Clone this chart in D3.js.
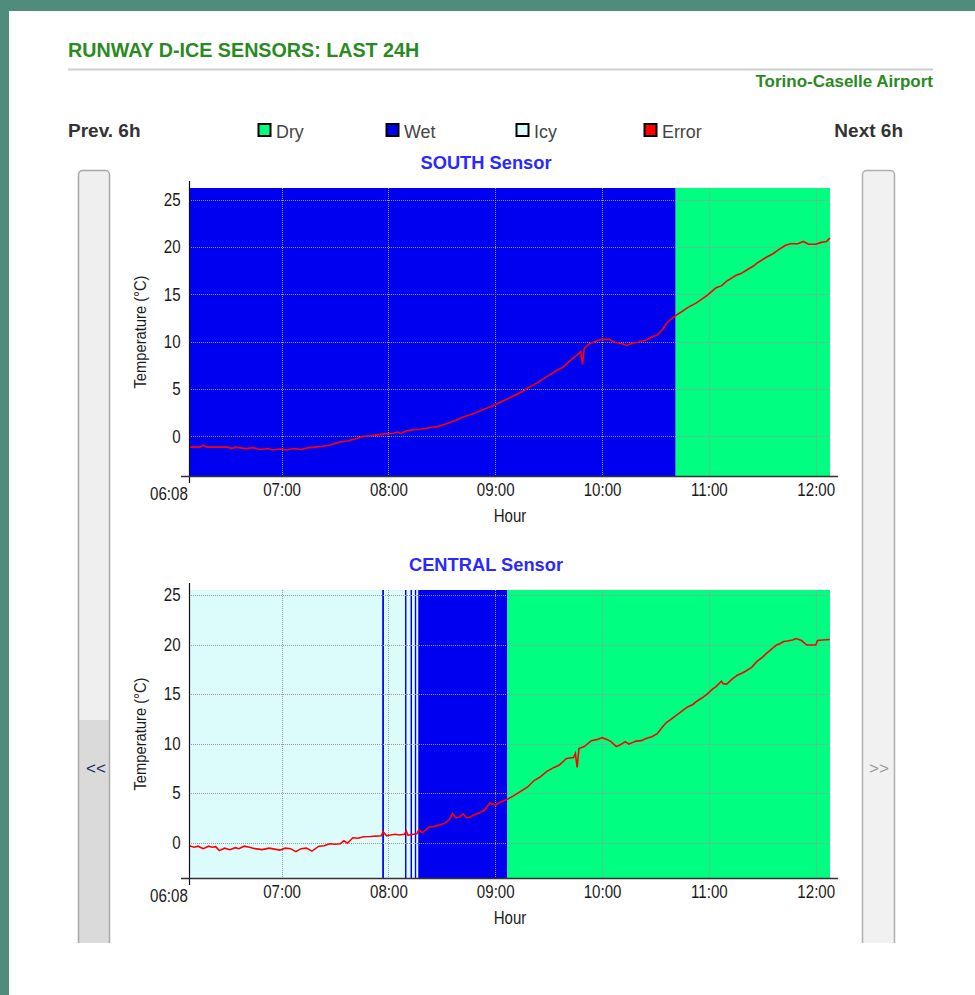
<!DOCTYPE html>
<html>
<head>
<meta charset="utf-8">
<script src="https://cdn.jsdelivr.net/npm/d3@7"></script>
<style>
  html, body { margin: 0; padding: 0; background: #fff; }
  svg { display: block; font-family: "Liberation Sans", Arial, sans-serif; }
</style>
</head>
<body>
<div id="page"></div>
<script>
// Legend / state colours
var stateNames = ["Dry", "Wet", "Icy", "Error"];
var stateColors = ["#00ff80", "#0000f0", "#dcfcfc", "#ff0000"];

// Axes
var timeStart = "06:08";
var timeEnd = "12:08";
var hourTicks = ["06:08", "07:00", "08:00", "09:00", "10:00", "11:00", "12:00"];
var tempTicks = [0, 5, 10, 15, 20, 25];

// SOUTH sensor
var southRange = [-4.2, 26.25];
var southStates = [
    ["06:08", "10:41:20", "Wet"],
    ["10:41:20", "12:08", "Dry"]
];
var southTemps = [
    ["06:08", -1.15], ["06:14", -1.15], ["06:16", -0.95], ["06:18", -1.15], ["06:30", -1.15],
    ["06:32", -1.3], ["06:34", -1.15], ["06:40", -1.3], ["06:44", -1.2], ["06:48", -1.4],
    ["06:52", -1.3], ["06:55", -1.45], ["06:59", -1.35], ["07:03", -1.45], ["07:07", -1.3],
    ["07:11", -1.4], ["07:15", -1.2], ["07:19", -1.15], ["07:23", -1.05], ["07:27", -0.95],
    ["07:30", -0.75], ["07:33", -0.6], ["07:37", -0.5], ["07:40", -0.35], ["07:43", -0.2],
    ["07:46", 0.0], ["07:50", 0.05], ["07:54", 0.15], ["07:58", 0.25], ["08:02", 0.3],
    ["08:05", 0.45], ["08:07", 0.3], ["08:10", 0.55], ["08:14", 0.7], ["08:18", 0.75],
    ["08:23", 0.9], ["08:28", 1.05], ["08:33", 1.35], ["08:38", 1.7], ["08:42", 2.05],
    ["08:47", 2.35], ["08:51", 2.65], ["08:55", 2.95], ["08:59", 3.25], ["09:04", 3.7],
    ["09:10", 4.25], ["09:15", 4.7], ["09:19", 5.2], ["09:24", 5.7], ["09:29", 6.3],
    ["09:34", 6.9], ["09:38", 7.3], ["09:42", 8.0], ["09:46", 8.6], ["09:48", 8.95],
    ["09:49", 7.6], ["09:50", 9.3], ["09:53", 9.8], ["09:57", 10.1], ["10:00", 10.25],
    ["10:04", 10.25], ["10:07", 9.95], ["10:11", 9.8], ["10:14", 9.6], ["10:17", 9.85],
    ["10:20", 9.95], ["10:25", 10.2], ["10:28", 10.5], ["10:31", 10.7], ["10:34", 11.3],
    ["10:36", 11.9], ["10:38", 12.25], ["10:42", 12.85], ["10:45", 13.2], ["10:48", 13.6],
    ["10:53", 14.1], ["10:59", 14.9], ["11:04", 15.7], ["11:07", 15.9], ["11:10", 16.4],
    ["11:15", 17.0], ["11:18", 17.2], ["11:21", 17.55], ["11:25", 18.0], ["11:27", 18.3],
    ["11:32", 18.9], ["11:36", 19.3], ["11:39", 19.7], ["11:43", 20.2], ["11:46", 20.35],
    ["11:50", 20.35], ["11:53", 20.6], ["11:56", 20.3], ["12:00", 20.3], ["12:03", 20.5],
    ["12:06", 20.6], ["12:08", 20.95]
];

// CENTRAL sensor
var centralRange = [-3.56, 25.5];
var centralStates = [
    ["06:08", "07:56:30", "Icy"],
    ["07:56:30", "07:57:30", "Wet"],
    ["07:57:30", "08:09:20", "Icy"],
    ["08:09:20", "08:10:15", "Wet"],
    ["08:10:15", "08:12:25", "Icy"],
    ["08:12:25", "08:13:20", "Wet"],
    ["08:13:20", "08:14:50", "Icy"],
    ["08:14:50", "08:15:45", "Wet"],
    ["08:15:45", "08:16:45", "Icy"],
    ["08:16:45", "09:06:50", "Wet"],
    ["09:06:50", "12:08", "Dry"]
];
var centralTemps = [
    ["06:08", -0.3], ["06:11", -0.45], ["06:13", -0.35], ["06:16", -0.6], ["06:19", -0.35],
    ["06:21", -0.45], ["06:23", -0.4], ["06:25", -0.8], ["06:28", -0.55], ["06:31", -0.7],
    ["06:34", -0.5], ["06:36", -0.6], ["06:39", -0.35], ["06:42", -0.45], ["06:45", -0.6],
    ["06:49", -0.7], ["06:53", -0.55], ["06:56", -0.65], ["06:59", -0.75], ["07:02", -0.55],
    ["07:05", -0.6], ["07:08", -0.9], ["07:11", -0.6], ["07:14", -0.55], ["07:17", -0.85],
    ["07:21", -0.35], ["07:24", -0.3], ["07:27", -0.1], ["07:30", -0.15], ["07:33", -0.1],
    ["07:35", 0.2], ["07:37", -0.05], ["07:40", 0.5], ["07:43", 0.45], ["07:46", 0.6],
    ["07:50", 0.62], ["07:53", 0.67], ["07:56", 0.7], ["07:57", 1.1], ["07:59", 0.7],
    ["08:01", 0.78], ["08:04", 0.85], ["08:06", 0.78], ["08:09", 0.85], ["08:10", 1.2],
    ["08:11", 0.75], ["08:14", 0.85], ["08:16", 0.9], ["08:17", 1.3], ["08:19", 1.0],
    ["08:21", 1.3], ["08:23", 1.6], ["08:26", 1.65], ["08:29", 1.8], ["08:32", 2.0],
    ["08:34", 2.3], ["08:36", 2.95], ["08:38", 2.5], ["08:40", 2.6], ["08:42", 2.9],
    ["08:44", 2.5], ["08:46", 2.6], ["08:48", 2.8], ["08:51", 3.0], ["08:54", 3.3],
    ["08:57", 4.0], ["09:00", 3.8], ["09:03", 4.1], ["09:06", 4.3], ["09:10", 4.7],
    ["09:14", 5.15], ["09:18", 5.6], ["09:22", 6.3], ["09:25", 6.6], ["09:29", 7.2],
    ["09:33", 7.6], ["09:36", 7.84], ["09:40", 8.5], ["09:44", 8.6], ["09:45", 9.0],
    ["09:46", 7.6], ["09:47", 9.5], ["09:50", 9.7], ["09:54", 10.3], ["09:57", 10.4],
    ["10:00", 10.6], ["10:03", 10.4], ["10:05", 10.2], ["10:08", 9.7], ["10:10", 9.85],
    ["10:13", 10.2], ["10:15", 9.95], ["10:17", 10.1], ["10:19", 10.25], ["10:22", 10.3],
    ["10:25", 10.55], ["10:28", 10.7], ["10:31", 11.0], ["10:34", 11.7], ["10:36", 12.1],
    ["10:39", 12.5], ["10:42", 12.9], ["10:45", 13.3], ["10:48", 13.7], ["10:51", 13.95],
    ["10:53", 14.25], ["10:56", 14.6], ["10:59", 15.0], ["11:02", 15.5], ["11:04", 15.75],
    ["11:07", 16.3], ["11:08", 16.05], ["11:10", 16.0], ["11:13", 16.5], ["11:16", 16.9],
    ["11:19", 17.15], ["11:21", 17.35], ["11:24", 17.7], ["11:27", 18.3], ["11:30", 18.7],
    ["11:32", 19.05], ["11:35", 19.5], ["11:38", 19.95], ["11:40", 20.1], ["11:42", 20.3],
    ["11:44", 20.35], ["11:47", 20.45], ["11:49", 20.6], ["11:52", 20.4], ["11:55", 19.95],
    ["11:58", 19.95], ["12:00", 19.95], ["12:01", 20.4], ["12:04", 20.45], ["12:08", 20.5]
];

function parseTime(s) {
    var p = s.split(":").map(Number);
    return new Date(2000, 0, 1, p[0], p[1], p[2] || 0);
}

function init() {

    var width = 975;
    var height = 995;

    var color = d3.scaleOrdinal().domain(stateNames).range(stateColors);

    var svg = d3.select("#page")
        .append("svg")
        .attr("width", width)
        .attr("height", height);

    // text helper, sx squeezes the glyphs (the chart fonts are narrow)
    function label(g, x, y, str, size, opts) {
        opts = opts || {};
        var sx = opts.sx || 1;
        var tr = "translate(" + x + "," + y + ")" + (opts.rotate ? " rotate(" + opts.rotate + ")" : "") + " scale(" + sx + ",1)";
        return g.append("text")
            .attr("transform", tr)
            .attr("text-anchor", opts.anchor || "start")
            .style("font-size", size + "px")
            .style("font-weight", opts.bold ? "bold" : "normal")
            .style("fill", opts.fill || "#222")
            .text(str);
    }

    // frame
    svg.append("rect").attr("width", width).attr("height", height).attr("fill", "#fff");
    svg.append("rect").attr("x", 0).attr("y", 0).attr("width", width).attr("height", 11).attr("fill", "#508c7c");
    svg.append("rect").attr("x", 0).attr("y", 0).attr("width", 9).attr("height", height).attr("fill", "#508c7c");

    // header
    label(svg, 68, 57, "RUNWAY D-ICE SENSORS: LAST 24H", 19.7, { bold: true, fill: "#2a8a22" });
    svg.append("line")
        .attr("x1", 68).attr("x2", 933).attr("y1", 69.5).attr("y2", 69.5)
        .attr("stroke", "#cfcfcf").attr("stroke-width", 2);
    label(svg, 933, 87, "Torino-Caselle Airport", 17, { bold: true, fill: "#2a8a22", anchor: "end" });

    label(svg, 68, 137, "Prev. 6h", 19, { bold: true, fill: "#333" });
    label(svg, 903, 137, "Next 6h", 19, { bold: true, fill: "#333", anchor: "end" });

    // legend
    var legendX = [258, 386, 516, 644];
    var legend = svg.append("g").selectAll("g")
        .data(stateNames)
        .enter()
        .append("g")
        .attr("transform", function (d, i) { return "translate(" + legendX[i] + ",124)"; });
    legend.append("rect")
        .attr("x", 0.5).attr("y", 0).attr("width", 12).attr("height", 12)
        .attr("fill", function (d) { return color(d); })
        .attr("stroke", "#000").attr("stroke-width", 2);
    legend.each(function (d) {
        label(d3.select(this), 18, 14, d, 19, { fill: "#444", sx: 0.94 });
    });

    // side buttons
    var defs = svg.append("defs");
    defs.append("clipPath").attr("id", "btnclip")
        .append("rect").attr("x", 0).attr("y", 0).attr("width", width).attr("height", 943);

    var btns = svg.append("g").attr("clip-path", "url(#btnclip)");
    btns.append("rect")
        .attr("x", 78.5).attr("y", 170.5).attr("width", 31).attr("height", 800).attr("rx", 4)
        .attr("fill", "#efefef");
    btns.append("rect")
        .attr("x", 79).attr("y", 720).attr("width", 30).attr("height", 250)
        .attr("fill", "#dadada");
    btns.append("rect")
        .attr("x", 78.5).attr("y", 170.5).attr("width", 31).attr("height", 800).attr("rx", 4)
        .attr("fill", "none").attr("stroke", "#a8a8a8").attr("stroke-width", 1.5);
    btns.append("rect")
        .attr("x", 862.5).attr("y", 170.5).attr("width", 32).attr("height", 800).attr("rx", 4)
        .attr("fill", "#f1f1f1").attr("stroke", "#b0b0b0").attr("stroke-width", 1.5);
    label(svg, 96, 774, "<<", 17, { anchor: "middle", fill: "#1c2a5c" });
    label(svg, 879, 774, ">>", 17, { anchor: "middle", fill: "#9a9a9a" });

    // sensor charts
    drawSensor(svg, "SOUTH Sensor", southStates, southTemps, southRange, 188);
    drawSensor(svg, "CENTRAL Sensor", centralStates, centralTemps, centralRange, 590);

    function drawSensor(svg, title, states, temps, yRange, top) {
        var plotH = 288;
        var bottom = top + plotH;
        var left = 189, right = 830;
        var tickSx = 0.84;

        var x = d3.scaleTime()
            .domain([parseTime(timeStart), parseTime(timeEnd)])
            .range([left, right]);
        var y = d3.scaleLinear()
            .domain(yRange)
            .range([bottom, top]);

        var g = svg.append("g");

        label(g, 486, top - 19, title, 18.3, { bold: true, anchor: "middle", fill: "#2a2aff" });

        // state bands
        g.selectAll(".band")
            .data(states)
            .enter()
            .append("rect")
            .attr("class", "band")
            .attr("x", function (d) { return x(parseTime(d[0])); })
            .attr("width", function (d) { return x(parseTime(d[1])) - x(parseTime(d[0])); })
            .attr("y", top)
            .attr("height", plotH)
            .attr("fill", function (d) { return color(d[2]); });

        // dotted grid
        g.selectAll(".hgrid")
            .data(tempTicks)
            .enter()
            .append("line")
            .attr("x1", left).attr("x2", right)
            .attr("y1", function (d) { return Math.round(y(d)) + 0.5; })
            .attr("y2", function (d) { return Math.round(y(d)) + 0.5; })
            .attr("stroke", "#999").attr("stroke-dasharray", "1,1")
            .attr("shape-rendering", "crispEdges");
        g.selectAll(".vgrid")
            .data(hourTicks.slice(1))
            .enter()
            .append("line")
            .attr("x1", function (d) { return Math.round(x(parseTime(d))) + 0.5; })
            .attr("x2", function (d) { return Math.round(x(parseTime(d))) + 0.5; })
            .attr("y1", top).attr("y2", bottom)
            .attr("stroke", "#999").attr("stroke-dasharray", "1,1")
            .attr("shape-rendering", "crispEdges");

        // temperature line
        var line = d3.line()
            .x(function (d) { return x(parseTime(d[0])); })
            .y(function (d) { return y(d[1]); });
        g.append("path")
            .datum(temps)
            .attr("d", line)
            .attr("fill", "none")
            .attr("stroke", "#ff0000")
            .attr("stroke-width", 1.6);

        // axes
        var yAxis = g.append("g")
            .attr("transform", "translate(" + left + ",0)")
            .call(d3.axisLeft(y).tickValues(tempTicks).tickSize(0).tickPadding(10));
        yAxis.select(".domain").remove();
        yAxis.selectAll("text")
            .attr("transform", "scale(" + tickSx + ",1)")
            .style("font-size", "18px")
            .style("font-family", "'Liberation Sans', Arial, sans-serif")
            .style("fill", "#1a1a1a");

        var xAxis = g.append("g")
            .attr("transform", "translate(0," + bottom + ")")
            .call(d3.axisBottom(x)
                .tickValues(hourTicks.map(parseTime))
                .tickFormat(d3.timeFormat("%H:%M"))
                .tickSize(0).tickPadding(7));
        xAxis.select(".domain").remove();
        xAxis.selectAll("text")
            .attr("transform", "scale(" + tickSx + ",1)")
            .style("font-size", "18px")
            .style("font-family", "'Liberation Sans', Arial, sans-serif")
            .style("fill", "#1a1a1a");
        xAxis.select(".tick text")
            .attr("text-anchor", "end")
            .attr("x", -2)
            .attr("y", 11);

        g.append("line")
            .attr("x1", left + 0.5).attr("x2", left + 0.5)
            .attr("y1", top - 7).attr("y2", bottom + 7)
            .attr("stroke", "#111").attr("stroke-width", 1.2);
        g.append("line")
            .attr("x1", left - 8).attr("x2", right + 8)
            .attr("y1", bottom + 0.5).attr("y2", bottom + 0.5)
            .attr("stroke", "#333").attr("stroke-width", 1.6);

        label(g, 146, top + plotH / 2, "Temperature (°C)", 16, { rotate: -90, sx: 0.92, anchor: "middle", fill: "#1a1a1a" });
        label(g, 510, bottom + 45.5, "Hour", 17.5, { sx: 0.86, anchor: "middle", fill: "#1a1a1a" });
    }
}

window.onload = init;
</script>
</body>
</html>
